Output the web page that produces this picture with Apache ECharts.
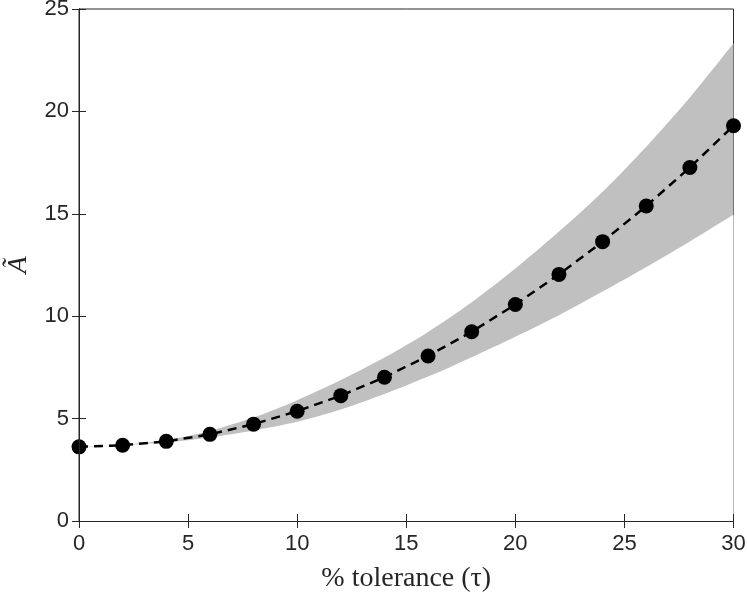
<!DOCTYPE html>
<html>
<head>
<meta charset="utf-8">
<script src="https://cdn.jsdelivr.net/npm/echarts@6/dist/echarts.min.js"></script>
<style>html,body{margin:0;padding:0;background:#fff}#c{width:747px;height:593px}</style>
</head>
<body>
<div id="c"></div>
<script>
var tau = [0, 2, 4, 6, 8, 10, 12, 14, 16, 18, 20, 22, 24, 26, 28, 30];
var meanA = [3.62, 3.70, 3.89, 4.23, 4.73, 5.36, 6.12, 7.02, 8.06, 9.24, 10.57, 12.04, 13.64, 15.38, 17.26, 19.30];
var bandLower = [3.62, 3.69, 3.84, 4.08, 4.42, 4.85, 5.45, 6.20, 7.05, 8.00, 9.00, 10.05, 11.20, 12.40, 13.65, 14.95];
var bandUpper = [3.62, 3.71, 3.95, 4.40, 5.05, 5.90, 6.88, 7.98, 9.23, 10.68, 12.33, 14.13, 16.08, 18.28, 20.68, 23.33];
var xTicks = [0, 5, 10, 15, 20, 25, 30];
var yTicks = [0, 5, 10, 15, 20, 25];

var axisColor = '#262626';
var chart = echarts.init(document.getElementById('c'));
var lowerData = tau.map(function (t, i) { return [t, bandLower[i]]; });
var upperData = tau.map(function (t, i) { return [t, bandUpper[i]]; });
var meanData = tau.map(function (t, i) { return [t, meanA[i]]; });

var commonLine = { show: true, lineStyle: { color: axisColor, width: 1 } };
var commonTick = { show: true, inside: true, length: 7, lineStyle: { color: axisColor, width: 1 } };

chart.setOption({
  animation: false,
  backgroundColor: '#fff',
  grid: { left: 79, right: 13.5, top: 9, bottom: 72, containLabel: false, outerBoundsMode: 'none',
          show: true, borderColor: axisColor, borderWidth: 1, backgroundColor: 'transparent' },
  xAxis: [{
    type: 'value', min: xTicks[0], max: xTicks[xTicks.length - 1], interval: 5, z: 10,
    axisLine: commonLine, axisTick: commonTick, splitLine: { show: false },
    axisLabel: { color: axisColor, fontFamily: 'Liberation Sans', fontSize: 22, margin: 12 },
    name: '% tolerance (\u03C4)', nameLocation: 'middle', nameGap: 44,
    nameTextStyle: { color: axisColor, fontFamily: 'Liberation Serif', fontSize: 28 }
  }, {
    type: 'value', position: 'top', min: 0, max: 30, interval: 5, z: 10,
    axisLine: commonLine, axisTick: commonTick, axisLabel: { show: false }, splitLine: { show: false }
  }],
  yAxis: [{
    type: 'value', min: yTicks[0], max: yTicks[yTicks.length - 1], interval: 5, z: 10,
    axisLine: commonLine, axisTick: commonTick, splitLine: { show: false },
    axisLabel: { color: axisColor, fontFamily: 'Liberation Sans', fontSize: 22, margin: 10 },
    name: 'A\u0303', nameLocation: 'middle', nameGap: 46, nameRotate: 90,
    nameTextStyle: { color: axisColor, fontFamily: 'Liberation Serif', fontStyle: 'italic', fontSize: 28 }
  }, {
    type: 'value', position: 'right', min: 0, max: 25, interval: 5, z: 10,
    axisLine: commonLine, axisTick: commonTick, axisLabel: { show: false }, splitLine: { show: false }
  }],
  series: [{
    type: 'line', data: upperData, symbol: 'none', smooth: 0.3,
    lineStyle: { opacity: 0 }, areaStyle: { color: '#c0c0c0', opacity: 1, origin: 'start' }, silent: true, z: 1
  }, {
    type: 'line', data: lowerData, symbol: 'none', smooth: 0.3,
    lineStyle: { opacity: 0 }, areaStyle: { color: '#ffffff', opacity: 1, origin: 'start' }, silent: true, z: 2
  }, {
    type: 'line', data: meanData, symbol: 'circle', symbolSize: 15,
    itemStyle: { color: '#000' },
    lineStyle: { color: '#000', width: 2.5, type: [9, 6] }, z: 5
  }]
});
</script>
</body>
</html>
